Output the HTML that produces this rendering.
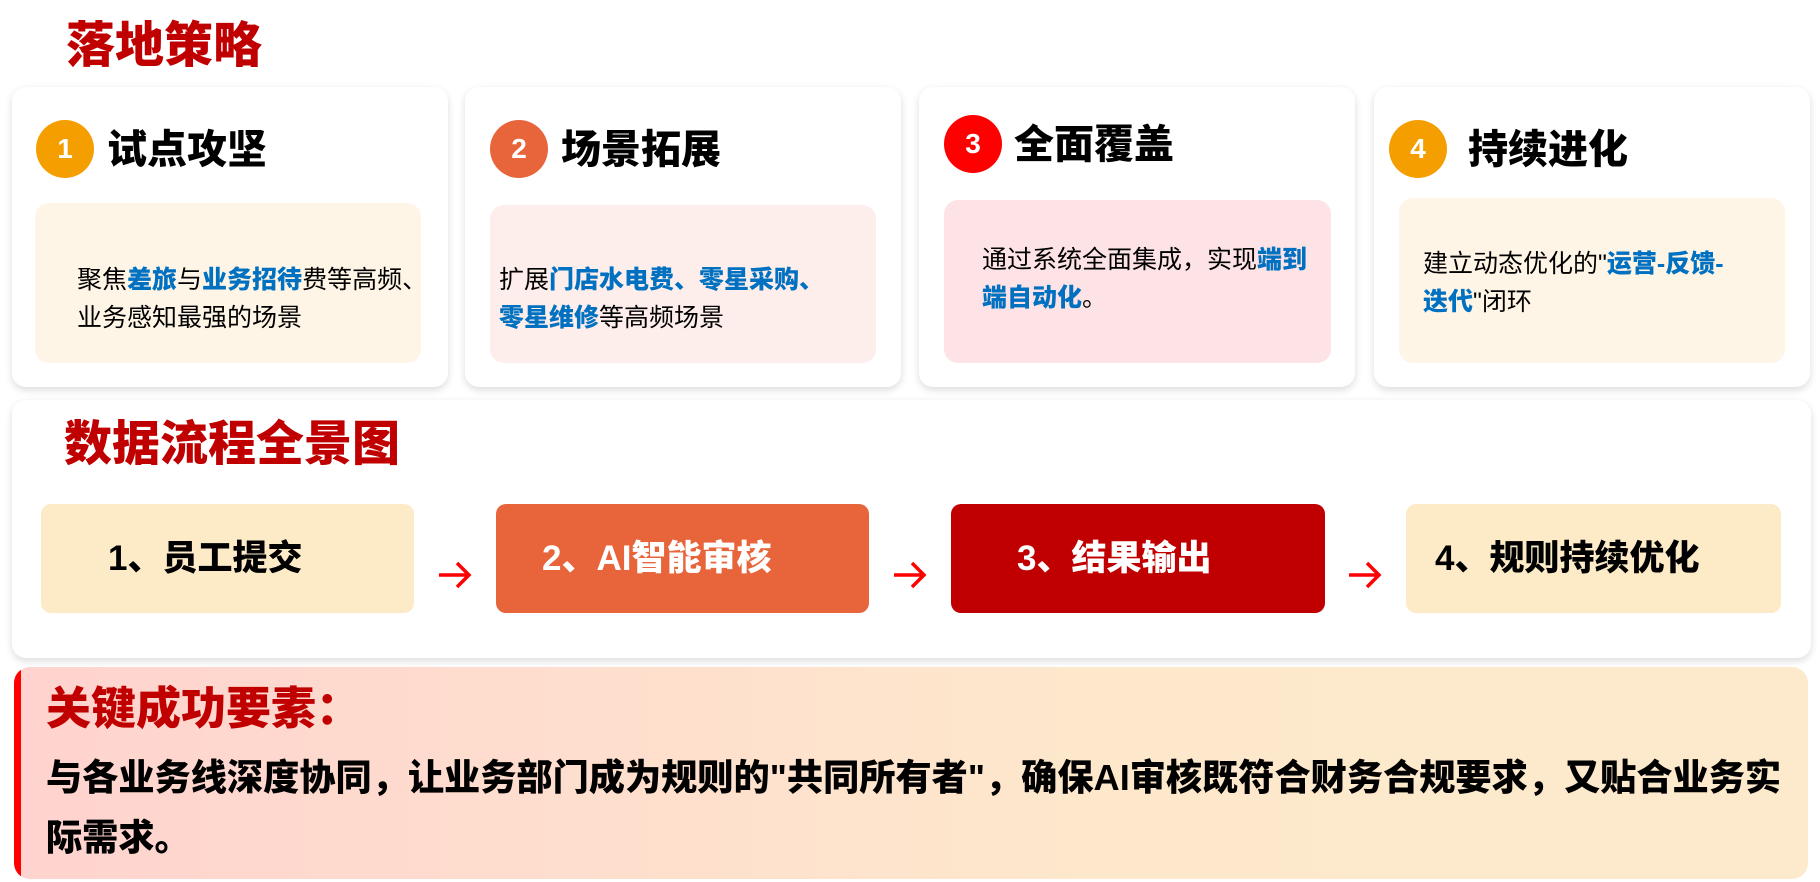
<!DOCTYPE html>
<html><head><meta charset="utf-8"><style>
*{margin:0;padding:0;box-sizing:border-box}
body{width:1820px;height:882px;background:#fff;position:relative;overflow:hidden;font-family:"Liberation Sans","Noto Sans CJK SC",sans-serif}
.a{position:absolute}
.h{color:#c00000;font-weight:900;white-space:nowrap;line-height:1}
.card{position:absolute;top:87px;width:436px;height:300px;background:#fff;border-radius:14px;box-shadow:0 3px 8px rgba(0,0,0,.14)}
.circ{position:absolute;width:58px;height:58px;border-radius:50%;color:#fff;font-weight:700;font-size:28px;text-align:center;line-height:58px}
.ct{position:absolute;font-size:40px;font-weight:900;color:#000;line-height:1;white-space:nowrap}
.in{position:absolute;border-radius:14px}
.tx{position:absolute;font-size:25px;line-height:38px;color:#000;white-space:nowrap}
.b{color:#0070c0;font-weight:900}
.fb{position:absolute;top:504px;height:109px;border-radius:10px;font-size:35px;font-weight:900;line-height:109px;white-space:nowrap}
.ar{position:absolute;top:560px;width:36px;height:30px}
</style></head><body>
<div class="a h" style="left:66px;top:22px;font-size:49px">落地策略</div>

<div class="card" style="left:12px"></div>
<div class="card" style="left:465px"></div>
<div class="card" style="left:919px"></div>
<div class="card" style="left:1374px"></div>

<div class="circ" style="left:36px;top:120px;background:#f59e00">1</div>
<div class="circ" style="left:490px;top:120px;background:#e8643a">2</div>
<div class="circ" style="left:944px;top:115px;background:#f00">3</div>
<div class="circ" style="left:1389px;top:120px;background:#f59e00">4</div>
<div class="ct" style="left:107px;top:130px">试点攻坚</div>
<div class="ct" style="left:561px;top:130px">场景拓展</div>
<div class="ct" style="left:1014px;top:125px">全面覆盖</div>
<div class="ct" style="left:1468px;top:130px">持续进化</div>

<div class="in" style="left:35px;top:203px;width:386px;height:160px;background:#fef5e6"></div>
<div class="in" style="left:490px;top:205px;width:386px;height:158px;background:#fdeeeb"></div>
<div class="in" style="left:944px;top:200px;width:387px;height:163px;background:#fde3e5"></div>
<div class="in" style="left:1399px;top:198px;width:386px;height:165px;background:#fef5e6"></div>

<div class="tx" style="left:77px;top:261px">聚焦<span class="b">差旅</span>与<span class="b">业务招待</span>费等高频、<br>业务感知最强的场景</div>
<div class="tx" style="left:499px;top:261px">扩展<span class="b">门店水电费、零星采购、</span><br><span class="b">零星维修</span>等高频场景</div>
<div class="tx" style="left:982px;top:241px">通过系统全面集成，实现<span class="b">端到</span><br><span class="b">端自动化</span>。</div>
<div class="tx" style="left:1423px;top:245px">建立动态优化的"<span class="b">运营-反馈-</span><br><span class="b">迭代</span>"闭环</div>

<div class="a" style="left:12px;top:400px;width:1799px;height:258px;background:#fff;border-radius:14px;box-shadow:0 3px 8px rgba(0,0,0,.14)"></div>
<div class="a h" style="left:64px;top:421px;font-size:48px">数据流程全景图</div>

<div class="fb" style="left:41px;width:373px;background:#fdebc8;color:#000;padding-left:67px">1、员工提交</div>
<div class="fb" style="left:496px;width:373px;background:#e8643a;color:#fff;padding-left:46px">2、AI智能审核</div>
<div class="fb" style="left:951px;width:374px;background:#c00000;color:#fff;padding-left:66px">3、结果输出</div>
<div class="fb" style="left:1406px;width:375px;background:#fdebc8;color:#000;padding-left:29px">4、规则持续优化</div>
<svg class="ar" style="left:437px" viewBox="0 0 36 30"><path d="M2 15H32M20 3L32 15L20 27" fill="none" stroke="#f00" stroke-width="3.5"/></svg>
<svg class="ar" style="left:892px" viewBox="0 0 36 30"><path d="M2 15H32M20 3L32 15L20 27" fill="none" stroke="#f00" stroke-width="3.5"/></svg>
<svg class="ar" style="left:1347px" viewBox="0 0 36 30"><path d="M2 15H32M20 3L32 15L20 27" fill="none" stroke="#f00" stroke-width="3.5"/></svg>

<div class="a" style="left:14px;top:667px;width:1794px;height:212px;border-radius:16px;background:linear-gradient(90deg,#ffd3cf,#fde8cc 60%,#fdeacc);overflow:hidden"><div style="position:absolute;left:0;top:0;width:7px;height:100%;background:#f00"></div></div>
<div class="a h" style="left:46px;top:686px;font-size:45px">关键成功要素：</div>
<div class="a" style="left:46px;top:748px;font-size:36.2px;font-weight:900;line-height:60px;color:#000;white-space:nowrap">与各业务线深度协同，让业务部门成为规则的"共同所有者"，确保AI审核既符合财务合规要求，又贴合业务实<br>际需求。</div>
</body></html>
